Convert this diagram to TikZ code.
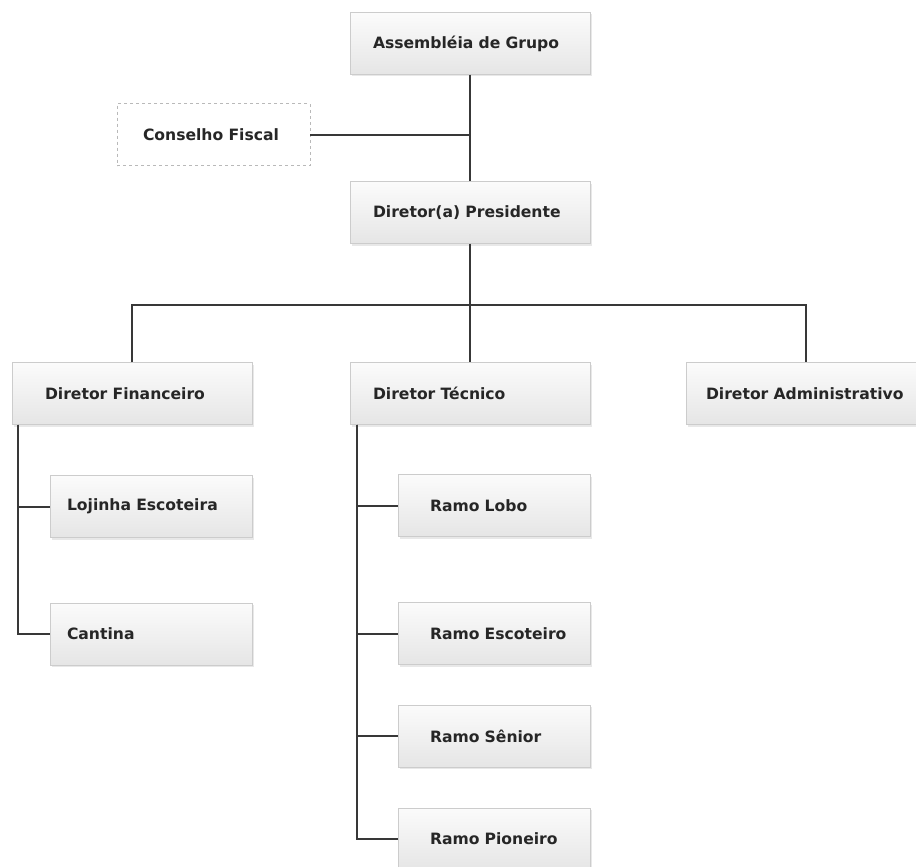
\documentclass[tikz,border=0pt]{standalone}
\usepackage{fontspec}
\setmainfont{DejaVu Sans}
\usetikzlibrary{shadows}
\begin{document}
\begin{tikzpicture}[x=1pt,y=-1pt,
  base/.style={minimum height=62pt, inner ysep=0pt, inner xsep=1pt, align=left,
    font=\fontsize{15.6}{18}\selectfont\bfseries, text=black!85},
  box/.style={base, draw=gray!40, top color=gray!3, bottom color=gray!20,
    drop shadow={opacity=0.18, shadow xshift=1.5pt, shadow yshift=-2pt}},
  dbox/.style={base, draw=gray!55, dashed, fill=white},
  wd/.style 2 args={text width=#1, execute at begin node={\hspace*{#2}}},
  link/.style={draw=black!78, line width=2pt}]
\useasboundingbox (0,0) rectangle (916,867);
% top
\node[box, wd={238pt}{22pt}] (asm) at (470,43.5) {Assembléia de Grupo};
\node[dbox, wd={191pt}{25pt}] (cf) at (213.5,134.5) {Conselho Fiscal};
\node[box, wd={238pt}{22pt}] (pres) at (470,212.5) {Diretor(a) Presidente};
% directors
\node[box, wd={238pt}{32pt}] (fin) at (132,393.5) {Diretor Financeiro};
\node[box, wd={238pt}{22pt}] (tec) at (470,393.5) {Diretor Técnico};
\node[box, wd={238pt}{19pt}] (adm) at (806,393.5) {Diretor Administrativo};
% financeiro children
\node[box, wd={200pt}{16pt}] (loj) at (151,506.5) {Lojinha Escoteira};
\node[box, wd={200pt}{16pt}] (can) at (151,634) {Cantina};
% tecnico children
\node[box, wd={190pt}{31pt}] (lobo) at (494,505.5) {Ramo Lobo};
\node[box, wd={190pt}{31pt}] (esc) at (494,633.5) {Ramo Escoteiro};
\node[box, wd={190pt}{31pt}] (sen) at (494,736) {Ramo Sênior};
\node[box, wd={190pt}{31pt}] (pio) at (494,839) {Ramo Pioneiro};
% connectors
\coordinate (cfj) at (470,134.5);
\coordinate (bus) at (470,305);
\draw[link] (asm.south) -- (pres.north);
\draw[link] (cf.east) -- (cfj);
\draw[link] (pres.south) -- (bus);
\draw[link] (fin.north) |- (bus) -| (adm.north);
\draw[link] (bus) -- (tec.north);
\coordinate (fj) at ([xshift=6pt]fin.south west);
\coordinate (tj) at ([xshift=7pt]tec.south west);
\draw[link] (fj) |- (loj.west);
\draw[link] (fj) |- (can.west);
\draw[link] (tj) |- (lobo.west);
\draw[link] (tj) |- (esc.west);
\draw[link] (tj) |- (sen.west);
\draw[link] (tj) |- (pio.west);
\end{tikzpicture}
\end{document}
